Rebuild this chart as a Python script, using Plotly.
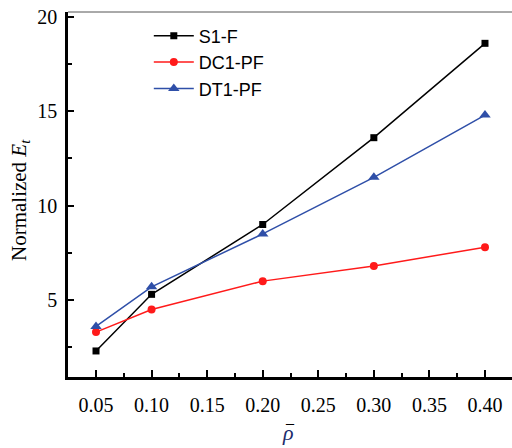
import plotly.graph_objects as go

rho = [0.05, 0.10, 0.20, 0.30, 0.40]
s1_f = [2.3, 5.3, 9.0, 13.6, 18.6]
dc1_pf = [3.3, 4.5, 6.0, 6.8, 7.8]
dt1_pf = [3.6, 5.7, 8.5, 11.5, 14.8]

x_tickvals = [0.05, 0.10, 0.15, 0.20, 0.25, 0.30, 0.35, 0.40]
x_ticktext = ["0.05", "0.10", "0.15", "0.20", "0.25", "0.30", "0.35", "0.40"]
y_tickvals = [5, 10, 15, 20]

fig = go.Figure()
fig.add_trace(go.Scatter(x=rho, y=s1_f, name="S1-F", mode="lines+markers",
                         line=dict(color="black", width=1.5),
                         marker=dict(symbol="square", size=7, color="black")))
fig.add_trace(go.Scatter(x=rho, y=dc1_pf, name="DC1-PF", mode="lines+markers",
                         line=dict(color="#ff1a1a", width=1.5),
                         marker=dict(symbol="circle", size=8, color="#ff1a1a")))
fig.add_trace(go.Scatter(x=rho, y=dt1_pf, name="DT1-PF", mode="lines+markers",
                         line=dict(color="#2f4fa8", width=1.5),
                         marker=dict(symbol="triangle-up", size=10, color="#2f4fa8")))

serif = "Liberation Serif, Times New Roman, serif"

fig.update_layout(
    width=512, height=448,
    margin=dict(l=68, r=0, t=12, b=71),
    plot_bgcolor="white", paper_bgcolor="white",
    showlegend=True,
    legend=dict(x=0.182, y=0.985, xanchor="left", yanchor="top",
                font=dict(family="Liberation Sans, Arial, sans-serif", size=18, color="black"),
                bgcolor="rgba(0,0,0,0)", itemwidth=40, tracegroupgap=0),
    xaxis=dict(range=[0.0248, 0.4243], tickmode="array", tickvals=x_tickvals, ticktext=x_ticktext,
               ticks="inside", ticklen=7, tickwidth=1.5, tickcolor="black",
               minor=dict(dtick=0.025, tick0=0.025, ticks="inside", ticklen=4, tickwidth=1.5, tickcolor="black"),
               showline=True, linecolor="black", linewidth=2.5, showgrid=False, zeroline=False,
               tickfont=dict(family=serif, size=20, color="black"), ticklabelstandoff=8),
    yaxis=dict(range=[0.92, 20.26], tickmode="array", tickvals=y_tickvals,
               ticks="inside", ticklen=6, tickwidth=1.5, tickcolor="black",
               minor=dict(dtick=2.5, tick0=0, ticks="inside", ticklen=4, tickwidth=1.5, tickcolor="black"),
               showline=True, linecolor="black", linewidth=2.5, showgrid=False, zeroline=False,
               tickfont=dict(family=serif, size=20, color="black"), ticklabelstandoff=4),
    shapes=[dict(type="line", xref="paper", yref="paper", x0=0, x1=1, y0=1, y1=1,
                 line=dict(color="#555555", width=1))],
    annotations=[
        dict(text="Normalized <i>E</i><sub><i>t</i></sub>", textangle=-90, showarrow=False,
             xref="paper", yref="paper", x=-0.108, y=0.485, xanchor="center", yanchor="middle",
             font=dict(family=serif, size=21, color="black")),
        dict(text="<i>ρ</i>", showarrow=False, xref="paper", yref="paper",
             x=0.495, y=-0.153, xanchor="center", yanchor="middle",
             font=dict(family=serif, size=22, color="#1c2b6b")),
        dict(text="¯", showarrow=False, xref="paper", yref="paper",
             x=0.501, y=-0.148, xanchor="center", yanchor="middle",
             font=dict(family=serif, size=16, color="black")),
    ],
)

fig.write_html("out.html", config={"displayModeBar": False},
               post_script="document.body.style.margin='0px';")
